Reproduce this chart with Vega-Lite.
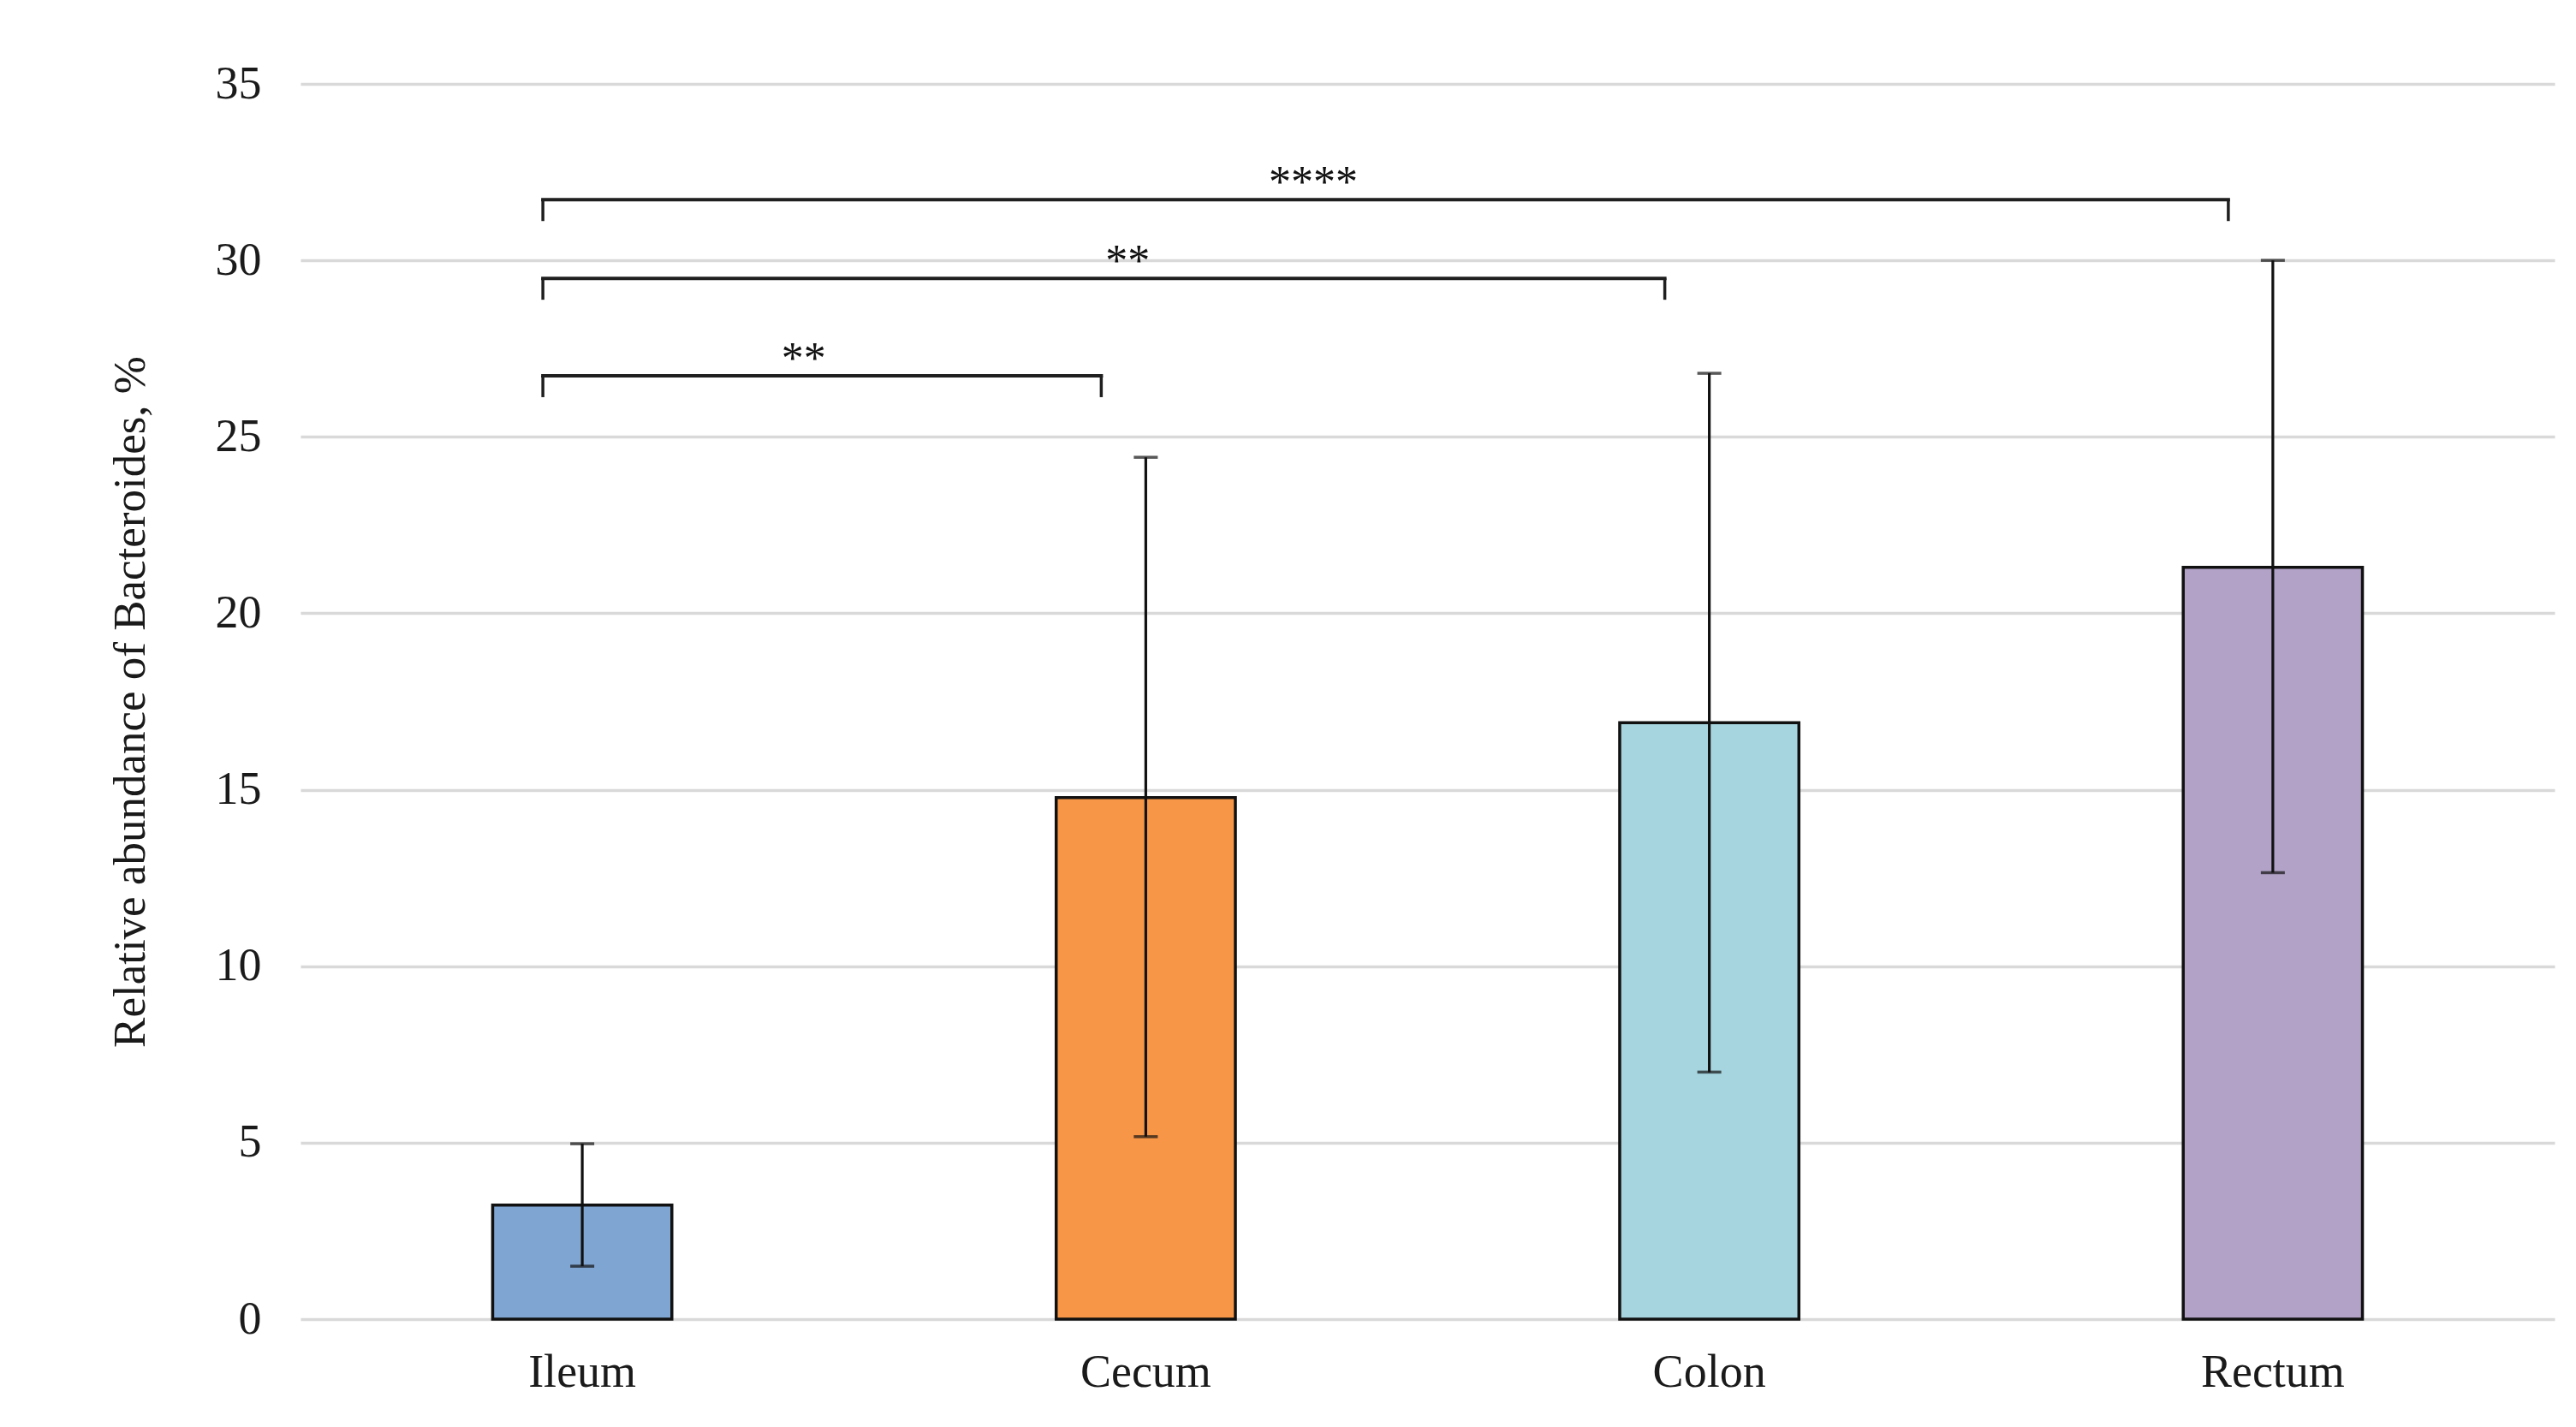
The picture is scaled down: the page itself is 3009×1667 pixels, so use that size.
{
  "$schema": "https://vega.github.io/schema/vega-lite/v6.json",
  "width": 2633,
  "height": 1443,
  "autosize": {"type": "none"},
  "padding": {"left": 351, "top": 98, "right": 25, "bottom": 126},
  "background": "white",
  "config": {
    "view": {"stroke": null},
    "font": "Liberation Serif",
    "axis": {
      "labelFont": "Liberation Serif",
      "labelFontSize": 54,
      "labelColor": "#1a1a1a",
      "titleFont": "Liberation Serif",
      "titleFontSize": 53,
      "titleFontWeight": "normal",
      "titleColor": "#1a1a1a",
      "domain": false,
      "ticks": false
    },
    "axisX": {"grid": false, "labelAngle": 0, "labelPadding": 35},
    "axisY": {"grid": true, "gridColor": "#d9d9d9", "gridWidth": 3.5, "labelPadding": 46, "titlePadding": 72}
  },
  "datasets": {
    "bars": [
      {"site": "Ileum", "mean": 3.23, "lo": 1.5, "hi": 4.97},
      {"site": "Cecum", "mean": 14.78, "lo": 5.17, "hi": 24.42},
      {"site": "Colon", "mean": 16.9, "lo": 7.0, "hi": 26.8},
      {"site": "Rectum", "mean": 21.3, "lo": 12.65, "hi": 30.0}
    ],
    "brackets": [
      {"from": "Ileum", "to": "Cecum", "level": 26.73, "label": "**", "tx": 0.893},
      {"from": "Ileum", "to": "Colon", "level": 29.49, "label": "**", "tx": 1.468},
      {"from": "Ileum", "to": "Rectum", "level": 31.72, "label": "****", "tx": 1.797}
    ]
  },
  "resolve": {"scale": {"x": "independent"}, "axis": {"x": "independent"}},
  "layer": [
    {
      "layer": [
        {
          "data": {"name": "bars"},
          "mark": {"type": "bar", "stroke": "#111111", "strokeWidth": 3.5},
          "encoding": {
            "x": {"field": "site", "type": "nominal", "title": null,
                  "scale": {"domain": ["Ileum", "Cecum", "Colon", "Rectum"], "paddingInner": 0.682, "paddingOuter": 0.341}},
            "y": {"field": "mean", "type": "quantitative", "title": "Relative abundance of Bacteroides, %",
                  "scale": {"domain": [0, 35], "nice": false},
                  "axis": {"values": [0, 5, 10, 15, 20, 25, 30, 35]}},
            "color": {"field": "site", "type": "nominal", "legend": null,
                      "scale": {"domain": ["Ileum", "Cecum", "Colon", "Rectum"], "range": ["#7fa5d2", "#f79646", "#a6d5e0", "#b2a2c8"]}}
          }
        },
        {
          "data": {"name": "bars"},
          "mark": {"type": "rule", "color": "#111111", "strokeWidth": 3.2},
          "encoding": {
            "x": {"field": "site", "type": "nominal", "title": null, "scale": {"domain": ["Ileum", "Cecum", "Colon", "Rectum"]}},
            "y": {"field": "lo", "type": "quantitative", "title": "Relative abundance of Bacteroides, %"},
            "y2": {"field": "hi"}
          }
        },
        {
          "data": {"name": "bars"},
          "mark": {"type": "tick", "color": "#111111", "size": 28, "thickness": 3.5},
          "encoding": {
            "x": {"field": "site", "type": "nominal", "title": null, "scale": {"domain": ["Ileum", "Cecum", "Colon", "Rectum"]}},
            "y": {"field": "lo", "type": "quantitative", "title": "Relative abundance of Bacteroides, %"}
          }
        },
        {
          "data": {"name": "bars"},
          "mark": {"type": "tick", "color": "#111111", "size": 28, "thickness": 3.5},
          "encoding": {
            "x": {"field": "site", "type": "nominal", "title": null, "scale": {"domain": ["Ileum", "Cecum", "Colon", "Rectum"]}},
            "y": {"field": "hi", "type": "quantitative", "title": "Relative abundance of Bacteroides, %"}
          }
        },
        {
          "data": {"name": "brackets"},
          "mark": {"type": "rule", "color": "#1f1f1f", "strokeWidth": 4, "xOffset": -46, "x2Offset": -52, "strokeCap": "square"},
          "encoding": {
            "x": {"field": "from", "type": "nominal", "title": null, "scale": {"domain": ["Ileum", "Cecum", "Colon", "Rectum"]}},
            "x2": {"field": "to"},
            "y": {"field": "level", "type": "quantitative", "title": "Relative abundance of Bacteroides, %"}
          }
        },
        {
          "data": {"name": "brackets"},
          "mark": {"type": "rule", "color": "#1f1f1f", "strokeWidth": 3.5, "xOffset": -46, "y2Offset": 25},
          "encoding": {
            "x": {"field": "from", "type": "nominal", "title": null, "scale": {"domain": ["Ileum", "Cecum", "Colon", "Rectum"]}},
            "y": {"field": "level", "type": "quantitative", "title": "Relative abundance of Bacteroides, %"},
            "y2": {"field": "level"}
          }
        },
        {
          "data": {"name": "brackets"},
          "mark": {"type": "rule", "color": "#1f1f1f", "strokeWidth": 3.5, "xOffset": -52, "y2Offset": 25},
          "encoding": {
            "x": {"field": "to", "type": "nominal", "title": null, "scale": {"domain": ["Ileum", "Cecum", "Colon", "Rectum"]}},
            "y": {"field": "level", "type": "quantitative", "title": "Relative abundance of Bacteroides, %"},
            "y2": {"field": "level"}
          }
        }
      ]
    },
    {
      "data": {"name": "brackets"},
      "mark": {"type": "text", "fontSize": 52, "font": "Liberation Serif", "color": "#111111", "baseline": "alphabetic", "align": "center", "dy": -3},
      "encoding": {
        "x": {"field": "tx", "type": "quantitative", "axis": null, "scale": {"domain": [0, 4], "nice": false, "zero": false}},
        "y": {"field": "level", "type": "quantitative", "title": "Relative abundance of Bacteroides, %"},
        "text": {"field": "label"}
      }
    }
  ]
}
